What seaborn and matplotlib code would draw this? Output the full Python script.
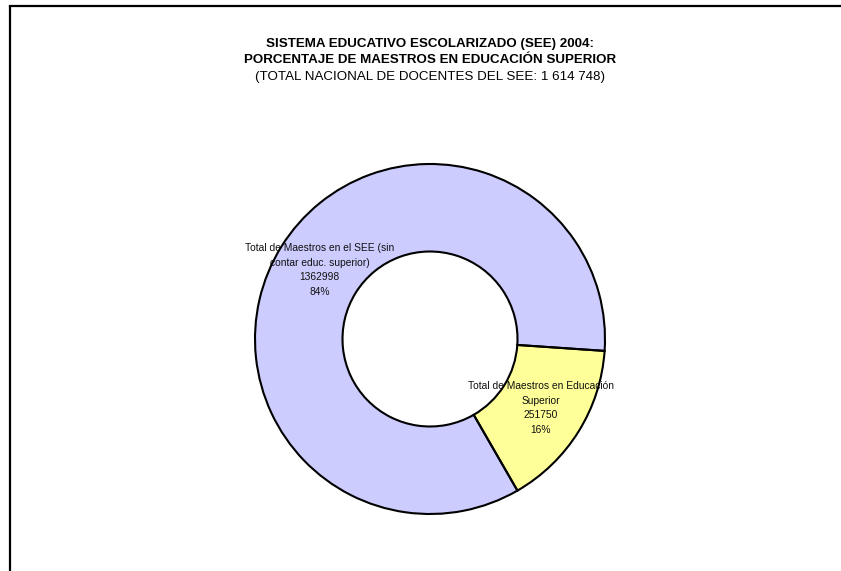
import matplotlib
matplotlib.use("Agg")
import matplotlib.pyplot as plt
from matplotlib.lines import Line2D
import seaborn as sns

# Data
categories = ["Total de Maestros en el SEE (sin\ncontar educ. superior)",
              "Total de Maestros en Educación\nSuperior"]
values = [1362998, 251750]
total_docentes = "1 614 748"
slice_colors = ["#CCCCFF", "#FFFF99"]

sns.set_theme(style="white")
plt.rcParams['font.family'] = ['Liberation Sans', 'DejaVu Sans']
plt.rcParams['text.color'] = 'black'

fig = plt.figure(figsize=(8.41, 5.71), dpi=100)
fig.patch.set_facecolor("white")

# pie centred at (430, 339) px, radius 175 px
W, H = 841, 571
ax = fig.add_axes([255 / W, (H - 514) / H, 350 / W, 350 / H])

tot = sum(values)
labels = [f"{c}\n{v}\n{round(100 * v / tot):.0f}%" for c, v in zip(categories, values)]

wedges, texts = ax.pie(values, labels=labels, colors=slice_colors,
                       startangle=-3.9, counterclock=True,
                       labeldistance=0.745,
                       wedgeprops=dict(width=0.5, edgecolor="none"),
                       textprops=dict(ha="center", va="center", fontsize=7.4,
                                      color="#111111", linespacing=1.58))
# outlines drawn above the labels, like the original
ax.pie(values, colors=slice_colors, startangle=-3.9, counterclock=True,
       wedgeprops=dict(width=0.5, fill=False, edgecolor="black",
                       linewidth=1.5, zorder=5))
ax.set_xlim(-1.0, 1.0)
ax.set_ylim(-1.0, 1.0)
ax.set_aspect("equal")
ax.axis("off")

# titles
cx = 430 / W
fig.text(cx, 1 - 46.7 / H, "SISTEMA EDUCATIVO ESCOLARIZADO (SEE) 2004:",
         ha="center", va="baseline", fontsize=9.6, fontweight="bold", color="black")
fig.text(cx, 1 - 63.2 / H, "PORCENTAJE DE MAESTROS EN EDUCACIÓN SUPERIOR",
         ha="center", va="baseline", fontsize=9.6, fontweight="bold", color="black")
fig.text(cx, 1 - 79.7 / H, f"(TOTAL NACIONAL DE DOCENTES DEL SEE: {total_docentes})",
         ha="center", va="baseline", fontsize=9.6, color="black")

# chart-area frame (only left and top edges fall inside the image)
fig.add_artist(Line2D([10 / W, 10 / W], [0, 1 - 6 / H], color="black",
                      linewidth=1.6, transform=fig.transFigure))
fig.add_artist(Line2D([10 / W, 1], [1 - 6 / H, 1 - 6 / H], color="black",
                      linewidth=1.6, transform=fig.transFigure,
                      solid_capstyle="projecting"))

fig.savefig("out.png", dpi=100, facecolor="white")
